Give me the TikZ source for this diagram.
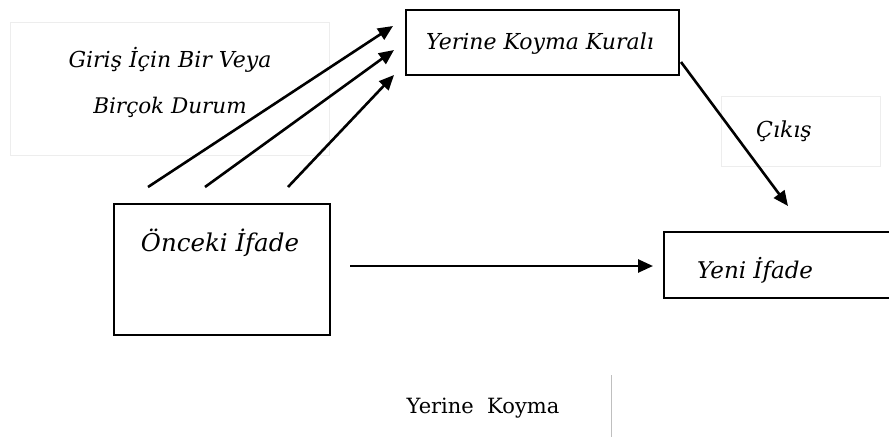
\documentclass[tikz,border=0pt]{standalone}
\usepackage{fontspec}
\setmainfont{DejaVu Serif}
\usetikzlibrary{arrows.meta}
\begin{document}
\begin{tikzpicture}[x=1pt,y=-1pt,
  boxline/.style={draw=black,line width=2.4pt},
  faint/.style={draw=black!7,line width=0.8pt},
  conn/.style={draw=black,line width=2.6pt,-{Triangle[length=15pt,width=13pt]}},
  lbl/.style={font=\itshape, inner sep=0pt}]
\useasboundingbox (0,0) rectangle (889,437);
\clip (0,0) rectangle (889,437);
% faint label frames
\draw[faint] (10,22) rectangle (329,155);
\draw[faint] (721,96) rectangle (880,166);
% boxes
\node[boxline, minimum width=273pt, minimum height=65pt, anchor=north west, inner sep=0pt] (rule) at (405,9) {};
\node[boxline, minimum width=216pt, minimum height=131pt, anchor=north west, inner sep=0pt] (prev) at (113,203) {};
\node[boxline, minimum width=240pt, minimum height=66pt, anchor=north west, inner sep=0pt] (new) at (663,231) {};
% texts
\node[lbl, font=\itshape\fontsize{22}{26}\selectfont] (ruletxt) at (540,44) {Yerine Koyma Kuralı};
\node[lbl, font=\itshape\fontsize{24.5}{28}\selectfont] (prevtxt) at (220,243) {Önceki İfade};
\node[lbl, font=\itshape\fontsize{23}{27}\selectfont, anchor=west] (newtxt) at (697,270) {Yeni İfade};
\node[lbl, font=\itshape\fontsize{22}{26}\selectfont] (in1) at (170,60) {Giriş İçin Bir Veya};
\node[lbl, font=\itshape\fontsize{21.5}{26}\selectfont] (in2) at (170,107) {Birçok Durum};
\node[lbl, font=\itshape\fontsize{22}{26}\selectfont] (out) at (784,131) {Çıkış};
\node[inner sep=0pt, font=\fontsize{21}{25}\selectfont] (cap) at (483,408) {Yerine\ \ Koyma};
\draw[draw=black!25, line width=1pt] (611,375) -- (611,437);
% connector ends
\coordinate (s1) at (148,187); \coordinate (e1) at (393,26);
\coordinate (s2) at (205,187); \coordinate (e2) at (394,50);
\coordinate (s3) at (288,187); \coordinate (e3) at (394,75);
\coordinate (s4) at (350,266); \coordinate (e4) at (653,266);
\coordinate (s5) at (681,62);  \coordinate (e5) at (788,206);
\draw[conn] (s1) -- (e1);
\draw[conn] (s2) -- (e2);
\draw[conn] (s3) -- (e3);
\draw[conn] (s4) -- (e4);
\draw[conn] (s5) -- (e5);
\end{tikzpicture}
\end{document}
